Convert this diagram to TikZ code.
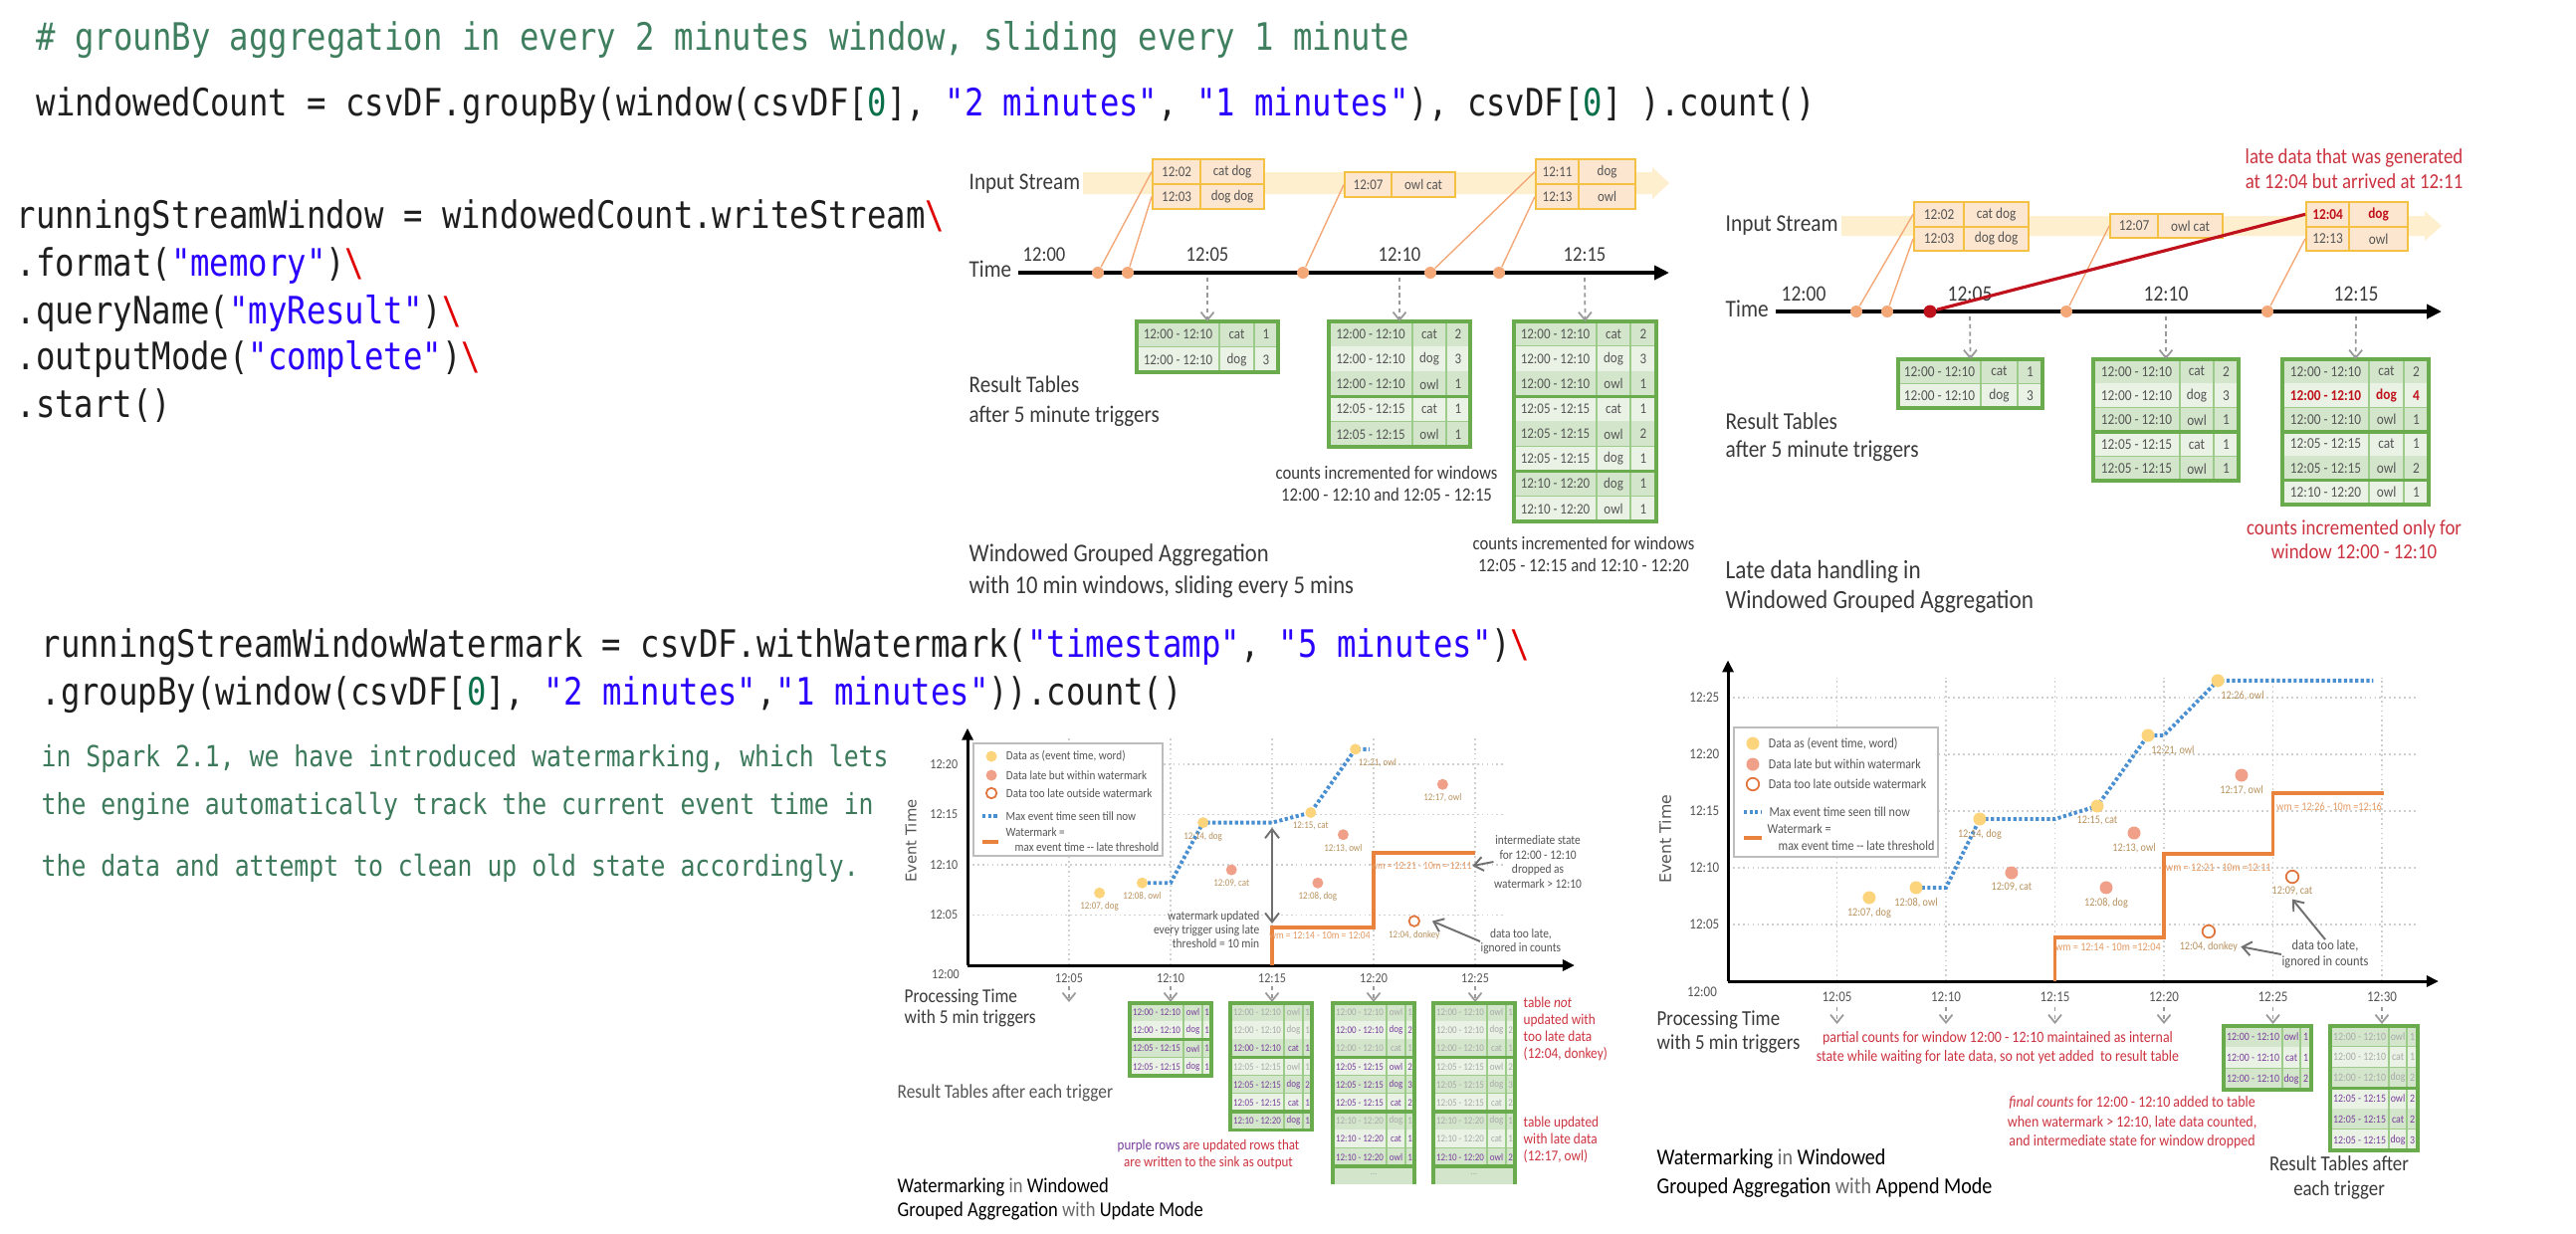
\documentclass[tikz,border=0pt]{standalone}
\usepackage{fontspec}
\setmainfont{Carlito}[FakeStretch=0.88]
\setmonofont{DejaVu Sans Mono}[FakeStretch=0.85]
\newfontfamily\axisfont{DejaVu Sans}
\usetikzlibrary{arrows.meta, positioning}

\definecolor{codeblk}{HTML}{1E1E1E}
\definecolor{cmtgreen}{HTML}{3F7F5F}
\definecolor{strblue}{HTML}{2A00FF}
\definecolor{numgreen}{HTML}{09704A}
\definecolor{bsred}{HTML}{E00000}
\definecolor{notegreen}{HTML}{3D7A5C}
\definecolor{txtdark}{HTML}{3A3A3A}
\definecolor{txtmid}{HTML}{555555}
\definecolor{txtlight}{HTML}{6A6A6A}
\definecolor{streamyel}{HTML}{FEF0CF}
\definecolor{inbg}{HTML}{FDE6CF}
\definecolor{inborder}{HTML}{F5C144}
\definecolor{evdot}{HTML}{F4A878}
\definecolor{latered}{HTML}{C0121C}
\definecolor{notered}{HTML}{CC3340}
\definecolor{rowdark}{HTML}{D3E6CB}
\definecolor{rowlight}{HTML}{E9F2E5}
\definecolor{tabgreen}{HTML}{6AAB4E}
\definecolor{cellgreen}{HTML}{9CCB8A}
\definecolor{purp}{HTML}{7A3E9D}
\definecolor{fade}{HTML}{A9A9A9}
\definecolor{yeldot}{HTML}{FBD47C}
\definecolor{saldot}{HTML}{F0A088}
\definecolor{lateorg}{HTML}{E0743A}
\definecolor{wmorange}{HTML}{E8823C}
\definecolor{maxblue}{HTML}{4A8FD0}
\definecolor{gridgray}{HTML}{CFCFCF}
\definecolor{ptlbl}{HTML}{B8925E}
\definecolor{wmtxt}{HTML}{E59A63}
\definecolor{arrgray}{HTML}{9A9A9A}
\definecolor{annarr}{HTML}{707070}
\definecolor{legray}{HTML}{BDBDBD}

\newcommand{\fsz}[2]{\fontsize{#1}{#2}\selectfont}
\newcommand{\bsl}{\textcolor{bsred}{\textbackslash}}
\newcommand{\qs}[1]{\textcolor{strblue}{#1}}
\newcommand{\nz}{\textcolor{numgreen}{0}}

\tikzset{
  code/.style={font=\ttfamily\fsz{10.8}{13}, text=codeblk, inner sep=0, anchor=west},
  note/.style={font=\ttfamily\fsz{8.3}{10}, text=notegreen, inner sep=0, anchor=west},
  lbl/.style={text=txtdark, inner sep=0, align=left},
  ann/.style={text=txtmid, inner sep=0, align=center},
  rednote/.style={text=notered, inner sep=0, align=center},
  ticklbl/.style={text=txtmid, inner sep=0},
  incell/.style={draw=inborder, fill=inbg, line width=0.6pt, minimum height=2.5mm, inner sep=0, anchor=north west, text=txtmid, font=\fsz{4.2}{5}},
  evt/.style={circle, fill=evdot, minimum size=1.2mm, inner sep=0},
  feed/.style={draw=evdot, line width=0.4pt},
  lateline/.style={draw=latered, line width=0.9pt},
  timeaxis/.style={line width=1.1pt, -{Triangle[length=1.5mm, width=1.4mm]}},
  trig/.style={draw=arrgray, line width=0.5pt, dash pattern=on 1.2pt off 1pt, -{Straight Barb[length=0.8mm, width=1.3mm]}},
  tg/.style={text=txtmid},
  tp/.style={text=purp},
  tq/.style={text=fade},
  tr/.style={text=latered, execute at begin node=\bfseries},
  cellline/.style={draw=cellgreen, line width=0.4pt},
  sepline/.style={draw=tabgreen, line width=1pt},
  tabframe/.style={draw=tabgreen, line width=1pt},
  chartaxis/.style={line width=0.85pt, -{Triangle[length=1.2mm, width=1.1mm]}},
  gridline/.style={draw=gridgray, line width=0.35pt, dash pattern=on 0.5pt off 0.9pt},
  ydot/.style={circle, fill=yeldot, minimum size=1.1mm, inner sep=0},
  sdot/.style={circle, fill=saldot, minimum size=1.1mm, inner sep=0},
  odot/.style={circle, draw=lateorg, line width=0.5pt, fill=white, minimum size=1.05mm, inner sep=0},
  ptlabel/.style={text=ptlbl, inner sep=0.25mm},
  maxline/.style={draw=maxblue, line width=1.1pt, dash pattern=on 0.9pt off 0.7pt},
  wmline/.style={draw=wmorange, line width=1.1pt},
  wmlabel/.style={text=wmtxt, inner sep=0},
  legbox/.style={draw=legray, line width=0.6pt, fill=white},
  legtxt/.style={text=txtmid, inner sep=0},
  annarrow/.style={draw=annarr, line width=0.55pt, -{Straight Barb[length=0.9mm, width=1.4mm]}},
  annboth/.style={draw=annarr, line width=0.55pt, {Straight Barb[length=0.9mm, width=1.4mm]}-{Straight Barb[length=0.9mm, width=1.4mm]}}
}

\newcommand{\restab}[9]{%
  \begin{scope}[shift={(#2,#3)}, font=\fsz{#8}{#8}]
    \coordinate (#1) at ({#6/2},0);
    \foreach \rs/\rc/\rw/\rk/\rn [count=\ri] in {#9}{%
      \ifodd\ri\relax\def\rowfill{rowdark}\else\def\rowfill{rowlight}\fi
      \fill[\rowfill] (0,{(\ri-1)*#7}) rectangle (#6,{\ri*#7});
      \draw[cellline] (0,{\ri*#7}) -- (#6,{\ri*#7})
        (#4,{(\ri-1)*#7}) -- (#4,{\ri*#7})
        (#5,{(\ri-1)*#7}) -- (#5,{\ri*#7});
      \ifnum\rs=1\relax\draw[sepline] (0,{(\ri-1)*#7}) -- (#6,{(\ri-1)*#7});\fi
      \node[\rc] (#1-\ri-w) at ({#4/2},{(\ri-0.5)*#7}) {\rw};
      \node[\rc] (#1-\ri-k) at ({(#4+#5)/2},{(\ri-0.5)*#7}) {\rk};
      \node[\rc] (#1-\ri-n) at ({(#5+#6)/2},{(\ri-0.5)*#7}) {\rn};
      \xdef\nrows{\ri}%
    }
    \draw[tabframe] (0,0) rectangle (#6,{\nrows*#7});
  \end{scope}}

\begin{document}
\begin{tikzpicture}[x=0.1mm, y=-0.1mm]
\useasboundingbox (0,0) rectangle (2588,1239);
\fill[white] (0,0) rectangle (2588,1239);

\node[code, text=cmtgreen] (cmt) at (36,40) {\# grounBy aggregation in every 2 minutes window, sliding every 1 minute};
\node[code] (wcount) at (36,106) {windowedCount = csvDF.groupBy(window(csvDF[\nz], \qs{"2 minutes"}, \qs{"1 minutes"}), csvDF[\nz] ).count()};
\node[code] (rsw1) at (16,219) {runningStreamWindow = windowedCount.writeStream\bsl};
\node[code] (rsw2) at (16,267) {.format(\qs{"memory"})\bsl};
\node[code] (rsw3) at (16,315) {.queryName(\qs{"myResult"})\bsl};
\node[code] (rsw4) at (16,361) {.outputMode(\qs{"complete"})\bsl};
\node[code] (rsw5) at (16,408) {.start()};
\node[code] (rwm1) at (41,650) {runningStreamWindowWatermark = csvDF.withWatermark(\qs{"timestamp"}, \qs{"5 minutes"})\bsl};
\node[code] (rwm2) at (41,698) {.groupBy(window(csvDF[\nz], \qs{"2 minutes"},\qs{"1 minutes"})).count()};
\node[note] (nt1) at (41,762) {in Spark 2.1, we have introduced watermarking, which lets};
\node[note] (nt2) at (41,810) {the engine automatically track the current event time in};
\node[note] (nt3) at (41,872) {the data and attempt to clean up old state accordingly.};

\fill[streamyel] (1088,173) -- (1660,173) -- (1660,168) -- (1677,184) -- (1660,200) -- (1660,195) -- (1088,195) -- cycle;
\node[lbl, anchor=west, font=\fsz{6.8}{8}] (tmins) at (973,185) {Input Stream};
\node[incell, minimum width=4.8mm] (tmi1) at (1157,159) {12:02};
\node[incell, minimum width=6.4mm] (tmi2) at (1205,159) {cat dog};
\node[incell, minimum width=4.8mm] (tmi3) at (1157,184) {12:03};
\node[incell, minimum width=6.4mm] (tmi4) at (1205,184) {dog dog};
\node[incell, minimum width=4.7mm] (tmi5) at (1350,172) {12:07};
\node[incell, minimum width=6.4mm] (tmi6) at (1397,172) {owl cat};
\node[incell, minimum width=4.3mm] (tmi7) at (1542,159) {12:11};
\node[incell, minimum width=5.7mm] (tmi8) at (1585,159) {dog};
\node[incell, minimum width=4.3mm] (tmi9) at (1542,184) {12:13};
\node[incell, minimum width=5.7mm] (tmi10) at (1585,184) {owl};
\node[lbl, anchor=west, font=\fsz{6.8}{8}] (tmtime) at (973,270) {Time};
\coordinate (tma0) at (1023,274);
\coordinate (tma1) at (1677,274);
\draw[timeaxis] (tma0) -- (tma1);
\foreach \t/\x in {12:00/1049, 12:05/1213, 12:10/1406, 12:15/1592}
  \node[lbl, font=\fsz{6}{7}] (tmt\x) at (\x,256) {\t};
\foreach \x [count=\i] in {1103,1133,1309,1437,1506}
  \node[evt] (tmd\i) at (\x,274) {};
\draw[feed] (tmd1) -- (tmi1.west);
\draw[feed] (tmd2) -- (tmi3.west);
\draw[feed] (tmd3) -- (tmi5.west);
\draw[feed] (tmd4) -- (tmi7.west);
\draw[feed] (tmd5) -- (tmi9.west);
\restab{tma}{1142}{323}{83}{118}{142}{25.5}{4.2}{0/tg/12:00 - 12:10/cat/1, 0/tg/12:00 - 12:10/dog/3}
\restab{tmb}{1335}{323}{84}{118}{142}{25.2}{4.2}{0/tg/12:00 - 12:10/cat/2, 0/tg/12:00 - 12:10/dog/3, 0/tg/12:00 - 12:10/owl/1, 1/tg/12:05 - 12:15/cat/1, 0/tg/12:05 - 12:15/owl/1}
\restab{tmc}{1521}{323}{83}{117}{143}{25.1}{4.2}{0/tg/12:00 - 12:10/cat/2, 0/tg/12:00 - 12:10/dog/3, 0/tg/12:00 - 12:10/owl/1, 1/tg/12:05 - 12:15/cat/1, 0/tg/12:05 - 12:15/owl/2, 0/tg/12:05 - 12:15/dog/1, 1/tg/12:10 - 12:20/dog/1, 0/tg/12:10 - 12:20/owl/1}
\foreach \x/\t [count=\i] in {1213/tma, 1406/tmb, 1592/tmc} {
  \coordinate (tmk\i) at (\x,279);
  \draw[trig] (tmk\i) -- (\t);
}
\node[lbl, anchor=west, font=\fsz{6.8}{8.5}] (tmres) at (973,403) {Result Tables\\after 5 minute triggers};
\node[ann, text=txtdark, font=\fsz{5.4}{6.3}] (tminc1) at (1393,486) {counts incremented for windows\\12:00 - 12:10 and 12:05 - 12:15};
\node[ann, text=txtdark, font=\fsz{5.4}{6.3}] (tminc2) at (1591,557) {counts incremented for windows\\12:05 - 12:15 and 12:10 - 12:20};
\node[lbl, anchor=west, font=\fsz{7.3}{9.1}] (tmtitle) at (973,574) {Windowed Grouped Aggregation\\with 10 min windows, sliding every 5 mins};

\node[rednote, font=\fsz{6.1}{7.1}] (trlate) at (2365,170) {late data that was generated\\at 12:04 but arrived at 12:11};
\fill[streamyel] (1850,217) -- (2436,217) -- (2436,212) -- (2453,227) -- (2436,242) -- (2436,237) -- (1850,237) -- cycle;
\node[lbl, anchor=west, font=\fsz{6.9}{8}] (trins) at (1733,227) {Input Stream};
\node[incell, minimum width=5mm, minimum height=2.45mm, font=\fsz{4.3}{5}] (tri1) at (1922,202) {12:02};
\node[incell, minimum width=6.5mm, minimum height=2.45mm, font=\fsz{4.3}{5}] (tri2) at (1972,202) {cat dog};
\node[incell, minimum width=5mm, minimum height=2.45mm, font=\fsz{4.3}{5}] (tri3) at (1922,226.5) {12:03};
\node[incell, minimum width=6.5mm, minimum height=2.45mm, font=\fsz{4.3}{5}] (tri4) at (1972,226.5) {dog dog};
\node[incell, minimum width=4.8mm, minimum height=2.4mm, font=\fsz{4.3}{5}] (tri5) at (2119,214) {12:07};
\node[incell, minimum width=6.5mm, minimum height=2.4mm, font=\fsz{4.3}{5}] (tri6) at (2167,214) {owl cat};
\node[incell, minimum width=4.3mm, minimum height=2.45mm, font=\fsz{4.3}{5}\bfseries, text=latered] (tri7) at (2316,202) {12:04};
\node[incell, minimum width=5.9mm, minimum height=2.45mm, font=\fsz{4.3}{5}\bfseries, text=latered] (tri8) at (2359,202) {dog};
\node[incell, minimum width=4.3mm, minimum height=2.45mm, font=\fsz{4.3}{5}] (tri9) at (2316,226.5) {12:13};
\node[incell, minimum width=5.9mm, minimum height=2.45mm, font=\fsz{4.3}{5}] (tri10) at (2359,226.5) {owl};
\node[lbl, anchor=west, font=\fsz{6.9}{8}] (trtime) at (1733,310) {Time};
\coordinate (tra0) at (1784,313);
\coordinate (tra1) at (2453,313);
\draw[timeaxis] (tra0) -- (tra1);
\foreach \t/\x in {12:00/1812, 12:05/1979, 12:10/2176, 12:15/2367}
  \node[lbl, font=\fsz{6.3}{7}] (trt\x) at (\x,295) {\t};
\node[evt] (trd1) at (1865,313) {};
\node[evt] (trd2) at (1896,313) {};
\node[evt, fill=latered, minimum size=1.3mm] (trd3) at (1939,313) {};
\node[evt] (trd4) at (2076,313) {};
\node[evt] (trd5) at (2278,313) {};
\draw[feed] (trd1) -- (tri1.west);
\draw[feed] (trd2) -- (tri3.west);
\draw[feed] (trd4) -- (tri5.west);
\draw[feed] (trd5) -- (tri9.west);
\draw[lateline] (trd3) -- (tri7.west);
\restab{tra}{1907}{361}{83}{120}{145}{24.5}{4.3}{0/tg/12:00 - 12:10/cat/1, 0/tg/12:00 - 12:10/dog/3}
\restab{trb}{2103}{361}{87}{121}{146}{24.4}{4.3}{0/tg/12:00 - 12:10/cat/2, 0/tg/12:00 - 12:10/dog/3, 0/tg/12:00 - 12:10/owl/1, 1/tg/12:05 - 12:15/cat/1, 0/tg/12:05 - 12:15/owl/1}
\restab{trc}{2293}{361}{87}{122}{147}{24.3}{4.3}{0/tg/12:00 - 12:10/cat/2, 0/tr/12:00 - 12:10/dog/4, 0/tg/12:00 - 12:10/owl/1, 1/tg/12:05 - 12:15/cat/1, 0/tg/12:05 - 12:15/owl/2, 1/tg/12:10 - 12:20/owl/1}
\foreach \x/\t [count=\i] in {1979/tra, 2176/trb, 2367/trc} {
  \coordinate (trk\i) at (\x,318);
  \draw[trig] (trk\i) -- (\t);
}
\node[lbl, anchor=west, font=\fsz{6.9}{8}] (trres) at (1733,439) {Result Tables\\after 5 minute triggers};
\node[rednote, font=\fsz{6.1}{6.8}] (trinc) at (2365,542) {counts incremented only for\\window 12:00 - 12:10};
\node[lbl, anchor=west, font=\fsz{7.5}{8.5}] (trtitle) at (1733,590) {Late data handling in\\Windowed Grouped Aggregation};

\node[lbl, rotate=90, font=\axisfont\fsz{4.2}{5}, text=txtmid] (bmev) at (915,845) {Event Time};
\def\bmpts{b1/ydot/6.5/7.2/{12:07, dog}/north, b2/ydot/8.6/8.2/{12:08, owl}/north, b3/ydot/11.6/14.2/{12:14, dog}/north, b4/sdot/13.0/9.5/{12:09, cat}/north, b5/ydot/16.9/15.2/{12:15, cat}/north, b6/sdot/17.25/8.2/{12:08, dog}/north, b7/sdot/18.5/13.0/{12:13, owl}/north, b8/ydot/19.1/21.5/{12:21, owl}/north west, b9/sdot/23.4/18.0/{12:17, owl}/north, b10/odot/22.0/4.4/{12:04, donkey}/north}
\begin{scope}[shift={(972,970)}, x=2.04mm, y=1.01mm, legtxt/.append style={font=\fsz{3.6}{4}}, ptlabel/.append style={font=\fsz{2.9}{3.4}}]
  \foreach \m in {5,10,...,25} \draw[gridline] (\m,0) -- (\m,22.6);
  \foreach \m in {5,10,15,20} \draw[gridline] (0,\m) -- (26.5,\m);
  \coordinate (bmo) at (0,0);
  \coordinate (bmy) at (0,23.6);
  \coordinate (bmx) at (29.9,0);
  \draw[chartaxis] (bmo) -- (bmy);
  \draw[chartaxis] (bmo) -- (bmx);
  \foreach \m/\t in {5/12:05, 10/12:10, 15/12:15, 20/12:20}
    \node[ticklbl, anchor=east, font=\fsz{3.9}{4}] (bmyl\m) at (-0.45,\m) {\t};
  \node[ticklbl, font=\fsz{3.9}{4}] (bmyl0) at (-1.08,-0.9) {12:00};
  \foreach \m/\t in {5/12:05, 10/12:10, 15/12:15, 20/12:20, 25/12:25} {
    \node[ticklbl, font=\fsz{3.9}{4}] (bmxl\m) at (\m,-1.3) {\t};
    \coordinate (bmk\m) at (\m,-2.1);
    \coordinate (bme\m) at (\m,-3.66);
    \draw[trig] (bmk\m) -- (bme\m);
  }
  \draw[legbox] (0.29,22.08) rectangle (9.61,10.89);
  \node[ydot] (bml1) at (1.18,20.79) {};
  \node[legtxt, right=0.8mm of bml1] (bml1t) {Data as (event time, word)};
  \node[sdot] (bml2) at (1.18,18.91) {};
  \node[legtxt, right=0.8mm of bml2] (bml2t) {Data late but within watermark};
  \node[odot] (bml3) at (1.18,17.13) {};
  \node[legtxt, right=0.8mm of bml3] (bml3t) {Data too late outside watermark};
  \coordinate (bml4a) at (0.74,14.85);
  \coordinate (bml4b) at (1.52,14.85);
  \draw[maxline] (bml4a) -- (bml4b);
  \node[legtxt, right=0.7mm of bml4b] (bml4t) {Max event time seen till now};
  \coordinate (bml5a) at (0.74,12.28);
  \coordinate (bml5b) at (1.52,12.28);
  \draw[wmline] (bml5a) -- (bml5b);
  \node[legtxt, anchor=west] (bml5t) at (1.86,13.27) {Watermark =};
  \node[legtxt, anchor=west] (bml6t) at (2.3,11.78) {max event time -{}- late threshold};
  \foreach \pn/\ps/\px/\py/\pt/\pa in \bmpts \coordinate (\pn) at (\px,\py);
  \draw[maxline] (b2) -- (10,8.2) -- (b3) -- (15,14.2) -- (b5) -- (b8) -- (19.8,21.5);
  \draw[wmline] (15,0) -- (15,3.8) -- (20,3.8) -- (20,11.2) -- (25,11.2);
  \foreach \pn/\ps/\px/\py/\pt/\pa in \bmpts {
    \node[\ps] (\pn-d) at (\pn) {};
    \node[ptlabel, anchor=\pa] (\pn-l) at (\pn-d.south) {\pt};
  }
  \node[wmlabel, font=\fsz{3.1}{3.5}] (bmw1) at (17.35,2.97) {wm = 12:14 - 10m = 12:04};
  \node[wmlabel, font=\fsz{3.1}{3.5}] (bmw2) at (22.35,9.9) {wm = 12:21 - 10m = 12:11};
  \coordinate (bmwt) at (15,13.7);
  \coordinate (bmwb) at (15,4.16);
  \draw[annboth] (bmwt) -- (bmwb);
  \node[ann, align=right, anchor=east, font=\fsz{3.7}{4.1}] (bmupd) at (14.41,3.56) {watermark updated\\every trigger using late\\threshold = 10 min};
  \node[ann, font=\fsz{3.7}{4.1}] (bmint) at (28.09,10.3) {intermediate state\\for 12:00 - 12:10\\dropped as\\watermark > 12:10};
  \draw[annarrow] (bmint.west) -- (bmw2.east);
  \node[ann, font=\fsz{3.7}{4.1}] (bmlate) at (27.25,2.38) {data too late,\\ignored in counts};
  \draw[annarrow] (bmlate.west) -- ([xshift=1.2mm]b10-d.east);
\end{scope}
\node[lbl, anchor=west, font=\fsz{5.6}{6}] (bmproc) at (908,1013) {Processing Time\\with 5 min triggers};
\restab{bma}{1135}{1008}{54}{73}{82}{18.2}{2.9}{0/tp/12:00 - 12:10/owl/1, 0/tp/12:00 - 12:10/dog/1, 1/tp/12:05 - 12:15/owl/1, 0/tp/12:05 - 12:15/dog/1}
\restab{bmb}{1236}{1008}{54}{73}{82}{18.2}{2.9}{0/tq/12:00 - 12:10/owl/1, 0/tq/12:00 - 12:10/dog/1, 0/tp/12:00 - 12:10/cat/1, 1/tq/12:05 - 12:15/owl/1, 0/tp/12:05 - 12:15/dog/2, 0/tp/12:05 - 12:15/cat/1, 1/tp/12:10 - 12:20/dog/1}
\restab{bmc}{1339}{1008}{54}{73}{82}{18.2}{2.9}{0/tq/12:00 - 12:10/owl/1, 0/tp/12:00 - 12:10/dog/2, 0/tq/12:00 - 12:10/cat/1, 1/tp/12:05 - 12:15/owl/2, 0/tp/12:05 - 12:15/dog/3, 0/tp/12:05 - 12:15/cat/2, 1/tq/12:10 - 12:20/dog/1, 0/tp/12:10 - 12:20/cat/1, 0/tp/12:10 - 12:20/owl/1}
\restab{bmd}{1440}{1008}{54}{73}{82}{18.2}{2.9}{0/tq/12:00 - 12:10/owl/1, 0/tq/12:00 - 12:10/dog/2, 0/tq/12:00 - 12:10/cat/1, 1/tq/12:05 - 12:15/owl/2, 0/tq/12:05 - 12:15/dog/3, 0/tq/12:05 - 12:15/cat/2, 1/tq/12:10 - 12:20/dog/1, 0/tq/12:10 - 12:20/cat/1, 0/tp/12:10 - 12:20/owl/2}
\foreach \x in {1339,1440} {
  \fill[rowdark] (\x,1172) rectangle (\x+82,1190);
  \draw[tabframe] (\x,1190) -- (\x,1172) -- (\x+82,1172) -- (\x+82,1190);
  \node[tq, font=\fsz{2.9}{3}] (bmmore\x) at (\x+41,1180) {...};
}
\node[rednote, font=\fsz{4.2}{4.6}] (bmpurp) at (1214,1160) {\textcolor{purp}{purple rows} are updated rows that\\are written to the sink as output};
\node[rednote, align=left, anchor=west, font=\fsz{4.3}{4.9}] (bmnot) at (1530,1034) {table \textit{not}\\updated with\\too late data\\(12:04, donkey)};
\node[rednote, align=left, anchor=west, font=\fsz{4.3}{4.9}] (bmupd2) at (1530,1145) {table updated\\with late data\\(12:17, owl)};
\node[lbl, anchor=west, font=\fsz{5.6}{6}, text=txtmid] (bmres) at (901,1098) {Result Tables after each trigger};
\node[lbl, anchor=west, font=\fsz{6}{6.8}, text=txtlight] (bmtitle) at (901,1205) {\textcolor{black}{Watermarking} in \textcolor{black}{Windowed}\\\textcolor{black}{Grouped Aggregation} with \textcolor{black}{Update Mode}};

\node[lbl, rotate=90, font=\axisfont\fsz{4.5}{5}, text=txtmid] (brev) at (1673,843) {Event Time};
\def\brpts{r1/ydot/6.48/7.37/{12:07, dog}/north, r2/ydot/8.63/8.25/{12:08, owl}/north, r3/ydot/11.55/14.3/{12:14, dog}/north, r4/sdot/13.01/9.56/{12:09, cat}/north, r5/ydot/16.94/15.44/{12:15, cat}/north, r6/sdot/17.35/8.25/{12:08, dog}/north, r7/sdot/18.63/13.07/{12:13, owl}/north, r8/ydot/19.27/21.67/{12:21, owl}/north west, r9/ydot/22.47/26.5/{12:26, owl}/north west, r10/sdot/23.56/18.16/{12:17, owl}/north, r11/odot/22.05/4.39/{12:04, donkey}/north, r12/odot/25.89/9.21/{12:09, cat}/north}
\begin{scope}[shift={(1736,986)}, x=2.19mm, y=1.14mm, ydot/.append style={minimum size=1.3mm}, sdot/.append style={minimum size=1.3mm}, odot/.append style={minimum size=1.25mm}, legtxt/.append style={font=\fsz{3.9}{4.3}}, ptlabel/.append style={font=\fsz{3.3}{3.8}}]
  \foreach \m in {5,10,...,30} \draw[gridline] (\m,0) -- (\m,26.8);
  \foreach \m in {5,10,...,25} \draw[gridline] (0,\m) -- (31.6,\m);
  \coordinate (bro) at (0,0);
  \coordinate (bry) at (0,28.3);
  \coordinate (brx) at (32.6,0);
  \draw[chartaxis] (bro) -- (bry);
  \draw[chartaxis] (bro) -- (brx);
  \foreach \m/\t in {5/12:05, 10/12:10, 15/12:15, 20/12:20, 25/12:25}
    \node[ticklbl, anchor=east, font=\fsz{4.2}{5}] (bryl\m) at (-0.37,\m) {\t};
  \node[ticklbl, font=\fsz{4.2}{5}] (bryl0) at (-1.19,-0.96) {12:00};
  \foreach \m/\t in {5/12:05, 10/12:10, 15/12:15, 20/12:20, 25/12:25, 30/12:30} {
    \node[ticklbl, font=\fsz{4.2}{5}] (brxl\m) at (\m,-1.4) {\t};
    \coordinate (brk\m) at (\m,-2.28);
    \coordinate (bre\m) at (\m,-3.77);
    \draw[trig] (brk\m) -- (bre\m);
  }
  \draw[legbox] (0.27,22.37) rectangle (9.63,10.96);
  \node[ydot] (brl1) at (1.14,20.96) {};
  \node[legtxt, right=0.8mm of brl1] (brl1t) {Data as (event time, word)};
  \node[sdot] (brl2) at (1.14,19.12) {};
  \node[legtxt, right=0.8mm of brl2] (brl2t) {Data late but within watermark};
  \node[odot] (brl3) at (1.14,17.37) {};
  \node[legtxt, right=0.8mm of brl3] (brl3t) {Data too late outside watermark};
  \coordinate (brl4a) at (0.73,14.91);
  \coordinate (brl4b) at (1.55,14.91);
  \draw[maxline] (brl4a) -- (brl4b);
  \node[legtxt, right=0.7mm of brl4b] (brl4t) {Max event time seen till now};
  \coordinate (brl5a) at (0.73,12.63);
  \coordinate (brl5b) at (1.55,12.63);
  \draw[wmline] (brl5a) -- (brl5b);
  \node[legtxt, anchor=west] (brl5t) at (1.78,13.42) {Watermark =};
  \node[legtxt, anchor=west] (brl6t) at (2.28,11.93) {max event time -{}- late threshold};
  \foreach \pn/\ps/\px/\py/\pt/\pa in \brpts \coordinate (\pn) at (\px,\py);
  \draw[maxline] (r2) -- (10,8.25) -- (r3) -- (15,14.3) -- (r5) -- (r8) -- (20,21.67) -- (r9) -- (29.6,26.5);
  \draw[wmline] (15,0) -- (15,3.86) -- (20,3.86) -- (20,11.23) -- (25,11.23) -- (25,16.58) -- (30.1,16.58);
  \foreach \pn/\ps/\px/\py/\pt/\pa in \brpts {
    \node[\ps] (\pn-d) at (\pn) {};
    \node[ptlabel, anchor=\pa] (\pn-l) at (\pn-d.south) {\pt};
  }
  \node[wmlabel, font=\fsz{3.3}{3.8}] (brw1) at (17.44,2.98) {wm = 12:14 - 10m =12:04};
  \node[wmlabel, font=\fsz{3.3}{3.8}] (brw2) at (22.5,10.0) {wm = 12:21 - 10m =12:11};
  \node[wmlabel, font=\fsz{3.3}{3.8}] (brw3) at (27.58,15.35) {wm = 12:26 - 10m =12:16};
  \node[ann, font=\fsz{4}{4.6}] (brlate) at (27.4,2.37) {data too late,\\ignored in counts};
  \draw[annarrow] (brlate.west) -- (r11-l.east);
  \draw[annarrow] (brlate.north) -- (r12-l.south);
\end{scope}
\node[lbl, anchor=west, font=\fsz{6.1}{6.6}] (brproc) at (1664,1037) {Processing Time\\with 5 min triggers};
\node[rednote, font=\fsz{4.5}{5.5}] (brpart) at (2007,1053) {partial counts for window 12:00 - 12:10 maintained as internal\\state while waiting for late data, so not yet added\ \ to result table};
\node[rednote, font=\fsz{4.5}{5.5}] (brfinal) at (2142,1128) {\textit{final counts} for 12:00 - 12:10 added to table\\when watermark > 12:10, late data counted,\\and intermediate state for window dropped};
\restab{bre}{2234}{1031}{59}{77}{88}{21.3}{3.2}{0/tp/12:00 - 12:10/owl/1, 0/tp/12:00 - 12:10/cat/1, 0/tp/12:00 - 12:10/dog/2}
\restab{brf}{2341}{1031}{59}{77}{88}{20.8}{3.2}{0/tq/12:00 - 12:10/owl/1, 0/tq/12:00 - 12:10/cat/1, 0/tq/12:00 - 12:10/dog/2, 1/tp/12:05 - 12:15/owl/2, 0/tp/12:05 - 12:15/cat/2, 0/tp/12:05 - 12:15/dog/3}
\node[ann, text=txtdark, font=\fsz{6.1}{7.1}] (brres) at (2350,1183) {Result Tables after\\each trigger};
\node[lbl, anchor=west, font=\fsz{6.5}{8}, text=txtlight] (brtitle) at (1664,1179) {\textcolor{black}{Watermarking} in \textcolor{black}{Windowed}\\\textcolor{black}{Grouped Aggregation} with \textcolor{black}{Append Mode}};
\end{tikzpicture}
\end{document}
